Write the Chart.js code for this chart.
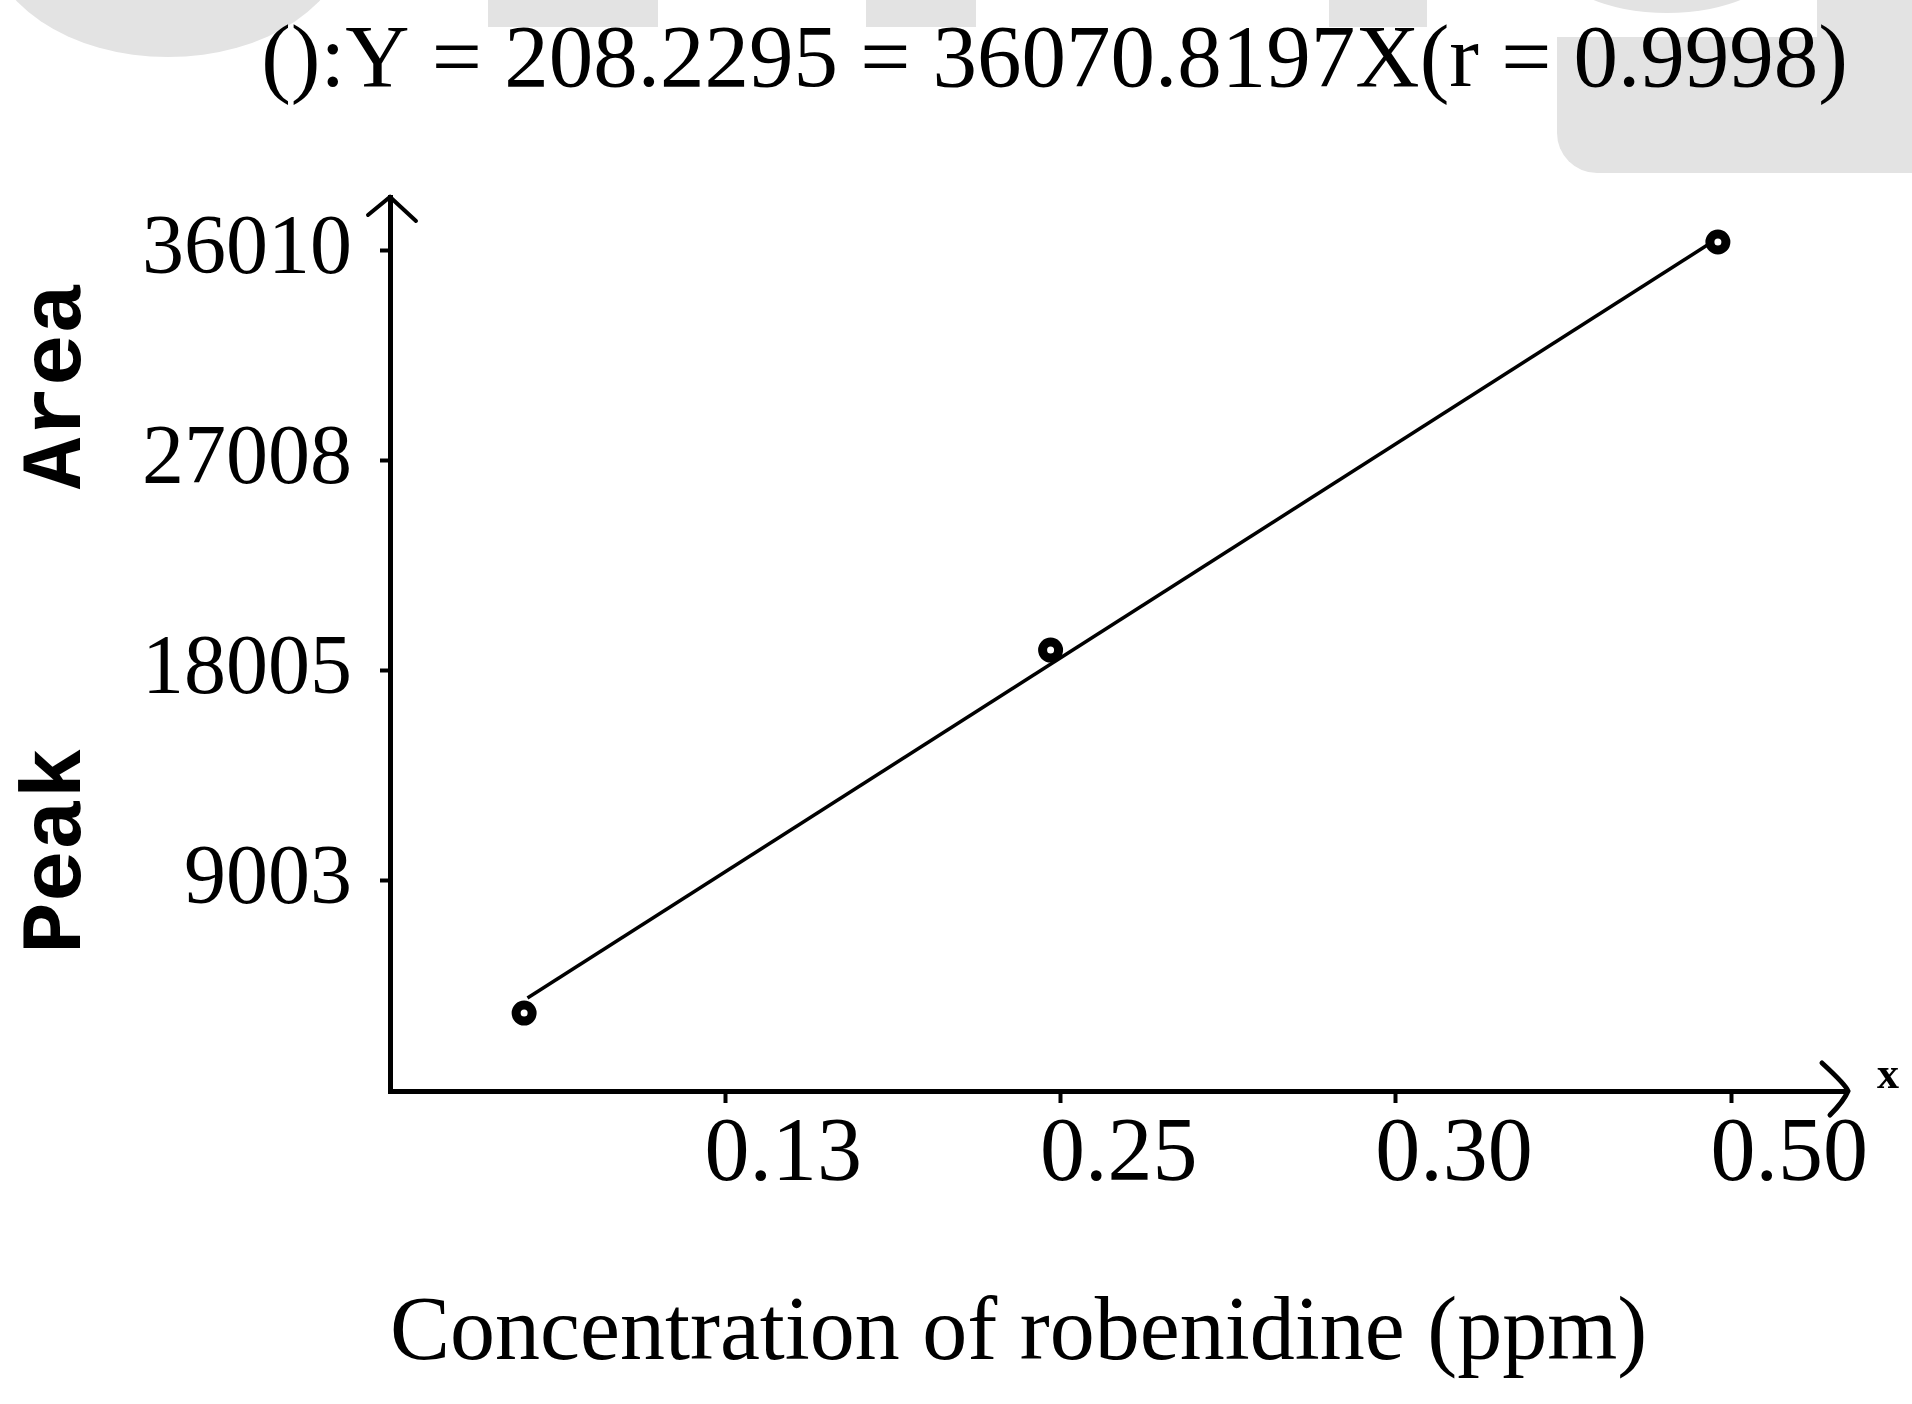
<!DOCTYPE html>
<html lang="en">
<head>
  <meta charset="UTF-8">
  <title>Peak area vs robenidine concentration</title>
  <style>
    html, body { margin: 0; padding: 0; background: #fff; }
    #mychart { display: block; }
  </style>
</head>
<body>
  <canvas id="mychart" width="1912" height="1404"></canvas>
  <script src="https://cdn.jsdelivr.net/npm/chart.js"></script>
  <script>
    // tick labels as printed - evenly spaced on the axis, so x is a slot number
    const xTickSlots = [1, 2, 3, 4]
    const xTickLabels = ['0.13', '0.25', '0.30', '0.50']
    const yTickValues = [9003, 18005, 27008, 36010]
    const yTickLabels = ['9003', '18005', '27008', '36010']

    // measured points (slot on x axis, peak area)
    const pointSlot = [0.40, 1.97, 3.96]
    const peakArea = [3340, 18900, 36390]

    // regression line as drawn
    const fitSlot = [0.41, 3.93]
    const fitArea = [3990, 36270]

    const titleText = '():Y = 208.2295 = 36070.8197X(r = 0.9998)'
    const serif = 'Liberation Serif, Times New Roman, serif'

    // faint watermark at the top + axis arrow heads
    const decor = {
      id: 'decor',
      beforeDraw(chart) {
        const ctx = chart.ctx
        ctx.save()
        ctx.fillStyle = '#e3e3e3'
        ctx.beginPath()
        ctx.ellipse(168, -65, 180, 122, 0, 0, Math.PI * 2)
        ctx.fill()
        ctx.fillRect(488, 0, 170, 27)
        ctx.fillRect(866, 0, 110, 27)
        ctx.fillRect(1329, 0, 98, 27)
        ctx.beginPath()
        ctx.ellipse(1667, -40, 112, 53, 0, 0, Math.PI * 2)
        ctx.fill()
        ctx.fillRect(1817, 0, 95, 40)
        ctx.beginPath()
        ctx.roundRect(1557, 37, 355, 136, [0, 0, 0, 40])
        ctx.fill()
        ctx.restore()
      },
      afterDraw(chart) {
        const {ctx, chartArea: a} = chart
        ctx.save()
        ctx.strokeStyle = '#000'
        ctx.lineWidth = 4
        ctx.lineCap = 'round'
        ctx.beginPath()
        ctx.moveTo(a.left - 22, a.top + 18)
        ctx.lineTo(a.left, a.top)
        ctx.lineTo(a.left + 26, a.top + 24)
        ctx.stroke()
        ctx.lineWidth = 5
        ctx.beginPath()
        ctx.moveTo(a.right - 26, a.bottom - 28)
        ctx.quadraticCurveTo(a.right - 2, a.bottom - 6, a.right, a.bottom)
        ctx.quadraticCurveTo(a.right - 4, a.bottom + 10, a.right - 18, a.bottom + 24)
        ctx.stroke()
        ctx.fillStyle = '#000'
        ctx.font = 'bold 44px ' + serif
        ctx.textAlign = 'center'
        ctx.textBaseline = 'middle'
        ctx.fillText('x', a.right + 40, a.bottom - 14)
        ctx.restore()
      }
    }

    const mychart = document.getElementById('mychart')

    new Chart(mychart, {
      type: 'scatter',
      data: {
        datasets: [
          {
            label: 'measured',
            data: pointSlot.map((x, i) => ({x: x, y: peakArea[i]})),
            showLine: false,
            pointRadius: 8,
            pointBorderWidth: 9,
            pointBorderColor: '#000',
            pointBackgroundColor: '#fff'
          },
          {
            label: 'fit',
            data: fitSlot.map((x, i) => ({x: x, y: fitArea[i]})),
            showLine: true,
            pointRadius: 0,
            borderColor: '#000',
            borderWidth: 3.5
          }
        ]
      },
      options: {
        responsive: false,
        animation: false,
        layout: { padding: {left: 0, right: 64, top: 0, bottom: 0} },
        plugins: {
          legend: { display: false },
          tooltip: { enabled: false },
          title: {
            display: true,
            text: titleText,
            align: 'end',
            color: '#000',
            font: {family: serif, size: 89, weight: 'normal', lineHeight: 1},
            padding: {top: 18, bottom: 90}
          }
        },
        scales: {
          x: {
            type: 'linear',
            min: 0,
            max: 4.348,
            afterBuildTicks: s => { s.ticks = xTickSlots.map(v => ({value: v})) },
            afterFit: s => { s.height = 313 },
            ticks: {
              callback: v => xTickLabels[xTickSlots.indexOf(v)],
              color: '#000',
              font: {family: serif, size: 90, lineHeight: 1},
              padding: 8,
              labelOffset: 58,
              autoSkip: false,
              maxRotation: 0
            },
            grid: { drawOnChartArea: false, drawTicks: true, tickLength: 12, tickWidth: 4, tickColor: '#000' },
            border: { color: '#000', width: 5 },
            title: {
              display: true,
              text: 'Concentration of robenidine (ppm)',
              align: 'start',
              color: '#000',
              font: {family: serif, size: 90, lineHeight: 1},
              padding: {top: 0, bottom: 24}
            }
          },
          y: {
            type: 'linear',
            min: 0,
            max: 38320,
            afterBuildTicks: s => { s.ticks = yTickValues.map(v => ({value: v})) },
            afterFit: s => { s.width = 390 },
            ticks: {
              callback: v => yTickLabels[yTickValues.indexOf(v)],
              color: '#000',
              font: {family: serif, size: 84, lineHeight: 1},
              padding: 28
            },
            grid: { drawOnChartArea: false, drawTicks: true, tickLength: 10, tickWidth: 4, tickColor: '#000' },
            border: { color: '#000', width: 5 },
            title: {
              display: true,
              text: ' Peak     Area',
              color: '#000',
              font: {family: 'Liberation Mono, DejaVu Sans Mono, monospace', size: 86, weight: 'bold', lineHeight: 1},
              padding: {top: 15, bottom: 0}
            }
          }
        }
      },
      plugins: [decor]
    })
  </script>
</body>
</html>
